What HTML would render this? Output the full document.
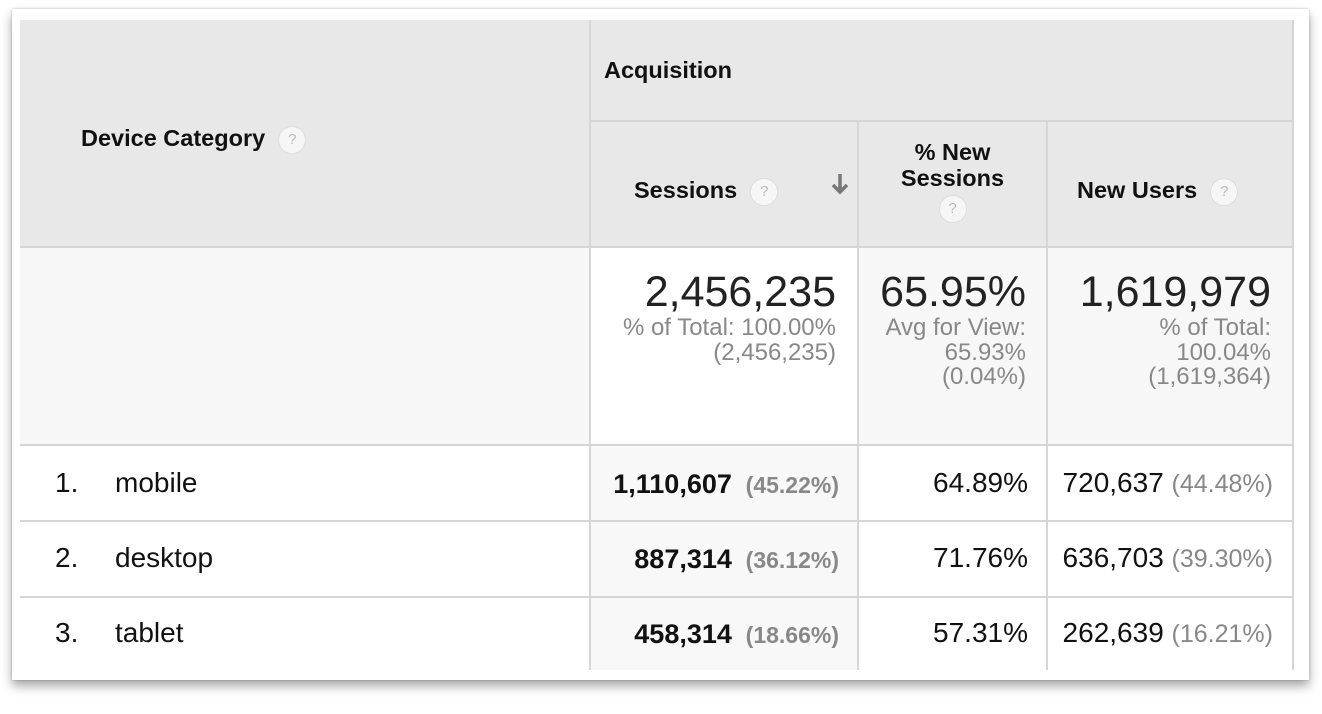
<!DOCTYPE html>
<html><head><style>
body{margin:0;width:1322px;height:714px;background:#fff;font-family:"Liberation Sans",Arial,sans-serif;position:relative;overflow:hidden}
.card{position:absolute;left:12px;top:9px;width:1297px;height:671px;background:#fff;box-shadow:0 6px 10px rgba(0,0,0,.35),0 0 2px rgba(0,0,0,.25)}
.a{position:absolute;box-sizing:border-box;white-space:nowrap}
.hd{background:#e8e8e8}
.b{font-weight:bold;color:#111;font-size:23.5px;line-height:28px}
.q{display:inline-block;width:26px;height:26px;border-radius:50%;background:#f6f6f6;border:1px solid #ddd;color:#bbb;font-size:15px;text-align:center;line-height:26px;font-weight:normal;vertical-align:middle}
.vl{position:absolute;width:2px;background:#d6d6d6}
.hl{position:absolute;height:2px;background:#d6d6d6}
.num{font-size:28px;color:#111;line-height:32px}
.g{color:#888;font-weight:bold;font-size:23px;margin-left:6px}
.gn{color:#888}
.r{text-align:right}
.big{font-size:43px;color:#222;line-height:48px}
.sub{font-size:24px;line-height:24.5px;color:#888}
</style></head><body>
<div class="card"></div>
<div class="a hd" style="left:20px;top:20px;width:1273px;height:227px"></div>
<div class="a" style="left:20px;top:247px;width:570px;height:198px;background:#f7f7f7"></div>
<div class="a" style="left:858px;top:247px;width:435px;height:198px;background:#f7f7f7"></div>
<div class="a" style="left:590px;top:445px;width:268px;height:225px;background:#f8f8f8"></div>
<div class="vl" style="left:589px;top:20px;height:650px"></div>
<div class="vl" style="left:857px;top:121px;height:549px"></div>
<div class="vl" style="left:1046px;top:121px;height:549px"></div>
<div class="vl" style="left:1292px;top:20px;height:650px"></div>
<div class="hl" style="left:590px;top:120px;width:703px"></div>
<div class="hl" style="left:20px;top:246px;width:1273px"></div>
<div class="hl" style="left:20px;top:444px;width:1273px"></div>
<div class="hl" style="left:20px;top:520px;width:1273px"></div>
<div class="hl" style="left:20px;top:596px;width:1273px"></div>

<div class="a b" style="left:81px;top:124px">Device Category &nbsp;<span class="q">?</span></div>
<div class="a b" style="left:604px;top:56px">Acquisition</div>
<div class="a b" style="left:634px;top:176px">Sessions &nbsp;<span class="q">?</span></div>
<svg class="a" style="left:830px;top:172px" width="20" height="24" viewBox="0 0 20 24"><path d="M10 2V20M3 13L10 20L17 13" stroke="#777" stroke-width="3.5" fill="none"/></svg>
<div class="a b" style="left:858px;top:139px;width:189px;text-align:center;line-height:26px">% New<br>Sessions<br><span class="q" style="margin-top:4px">?</span></div>
<div class="a b" style="left:1077px;top:176px">New Users &nbsp;<span class="q">?</span></div>

<div class="a r" style="left:590px;top:268px;width:246px"><div class="big">2,456,235</div><div class="sub">% of Total: 100.00%<br>(2,456,235)</div></div>
<div class="a r" style="left:858px;top:268px;width:168px"><div class="big">65.95%</div><div class="sub">Avg for View:<br>65.93%<br>(0.04%)</div></div>
<div class="a r" style="left:1047px;top:268px;width:224px"><div class="big">1,619,979</div><div class="sub">% of Total:<br>100.04%<br>(1,619,364)</div></div>

<div class="a num" style="left:55px;top:467px">1.</div><div class="a num" style="left:115px;top:467px">mobile</div>
<div class="a num r" style="left:590px;top:468px;width:249px"><b style="font-size:27px">1,110,607</b> <span class="g">(45.22%)</span></div>
<div class="a num r" style="left:858px;top:467px;width:170px">64.89%</div>
<div class="a num r" style="left:1047px;top:467px;width:226px">720,637 <span class="gn" style="font-size:25px">(44.48%)</span></div>

<div class="a num" style="left:55px;top:542px">2.</div><div class="a num" style="left:115px;top:542px">desktop</div>
<div class="a num r" style="left:590px;top:543px;width:249px"><b style="font-size:27px">887,314</b> <span class="g">(36.12%)</span></div>
<div class="a num r" style="left:858px;top:542px;width:170px">71.76%</div>
<div class="a num r" style="left:1047px;top:542px;width:226px">636,703 <span class="gn" style="font-size:25px">(39.30%)</span></div>

<div class="a num" style="left:55px;top:617px">3.</div><div class="a num" style="left:115px;top:617px">tablet</div>
<div class="a num r" style="left:590px;top:618px;width:249px"><b style="font-size:27px">458,314</b> <span class="g">(18.66%)</span></div>
<div class="a num r" style="left:858px;top:617px;width:170px">57.31%</div>
<div class="a num r" style="left:1047px;top:617px;width:226px">262,639 <span class="gn" style="font-size:25px">(16.21%)</span></div>
</body></html>
